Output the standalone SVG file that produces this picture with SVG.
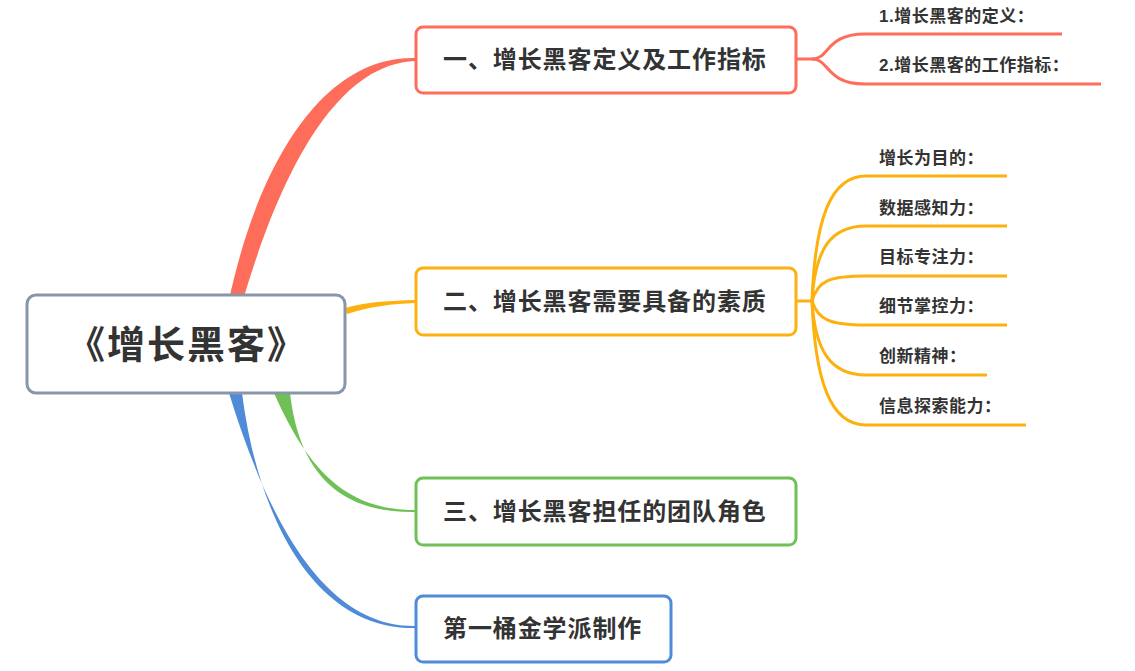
<svg xmlns="http://www.w3.org/2000/svg" width="1135" height="671" viewBox="0 0 1135 671">
<style>
text{font-family:"Liberation Sans","Noto Sans CJK SC",sans-serif;font-weight:bold;fill:#333}
.m{font-size:24px;letter-spacing:0.9px}.s{font-size:17px;letter-spacing:0.5px}
.c{font-family:"Noto Sans CJK SC",sans-serif}
.box{fill:#fff;stroke-width:3}
.sub{fill:none;stroke-width:3}
</style>
<rect width="1135" height="671" fill="#fff"/>
<g id="connectors">
<path d="M229,300 C258,165 322,56 415,58 L415,61 C335,64 280,175 243,300 Z" fill="#fd6d5a"/>
<path d="M345,308 C370,301 390,301 415,300 L415,303 C392,304 372,306 347,314 Z" fill="#fdb10f"/>
<path d="M274,393 C310,475 350,510 415,510 L415,512 C346,513 300,480 290,393 Z" fill="#6fc155"/>
<path d="M229,393 C265,510 320,627 415,626 L415,628 C316,630 258,520 242,393 Z" fill="#508bd7"/>
<g class="sub" stroke="#fd6d5a">
<path d="M796,59 H812 C830,59 825,34 865,34 H1062"/>
<path d="M812,59 C830,59 825,84 865,84 H1101"/>
</g>
<g class="sub" stroke="#fdb10f">
<path d="M796,301 H812"/>
<path d="M812,301 C815,220 830,176 866,176 H1007"/>
<path d="M812,301 C815,250 830,226 866,226 H1007"/>
<path d="M812,301 C818,280 830,276 866,276 H1007"/>
<path d="M812,301 C818,320 830,325 866,325 H1007"/>
<path d="M812,301 C815,350 830,375 866,375 H987"/>
<path d="M812,301 C815,380 830,425 866,425 H1026"/>
</g>
</g>
<g id="root"><rect class="box" x="27" y="295" width="318" height="98" rx="9" stroke="#8796a9" stroke-width="4"/><text x="187" y="358" font-size="38" letter-spacing="2" text-anchor="middle">《增长黑客》</text></g>
<g id="n1"><rect class="box" x="416" y="27" width="380" height="66" rx="7" stroke="#fd6d5a"/><text class="m" x="443" y="68">一、增长黑客定义及工作指标</text></g>
<g id="n2"><rect class="box" x="416" y="268" width="380" height="67" rx="7" stroke="#fdb10f"/><text class="m" x="443" y="310">二、增长黑客需要具备的素质</text></g>
<g id="n3"><rect class="box" x="416" y="478" width="380" height="67" rx="7" stroke="#6fc155"/><text class="m" x="443" y="520">三、增长黑客担任的团队角色</text></g>
<g id="n4"><rect class="box" x="416" y="596" width="255" height="66" rx="7" stroke="#508bd7"/><text class="m" x="443" y="637">第一桶金学派制作</text></g>
<g id="leaves">
<text class="s" x="879" y="22">1.增长黑客的定义<tspan class="c">：</tspan></text>
<text class="s" x="879" y="71">2.增长黑客的工作指标<tspan class="c">：</tspan></text>
<text class="s" x="879" y="164">增长为目的<tspan class="c">：</tspan></text>
<text class="s" x="879" y="214">数据感知力<tspan class="c">：</tspan></text>
<text class="s" x="879" y="263">目标专注力<tspan class="c">：</tspan></text>
<text class="s" x="879" y="312">细节掌控力<tspan class="c">：</tspan></text>
<text class="s" x="879" y="362">创新精神<tspan class="c">：</tspan></text>
<text class="s" x="879" y="412">信息探索能力<tspan class="c">：</tspan></text>
</g>
</svg>
